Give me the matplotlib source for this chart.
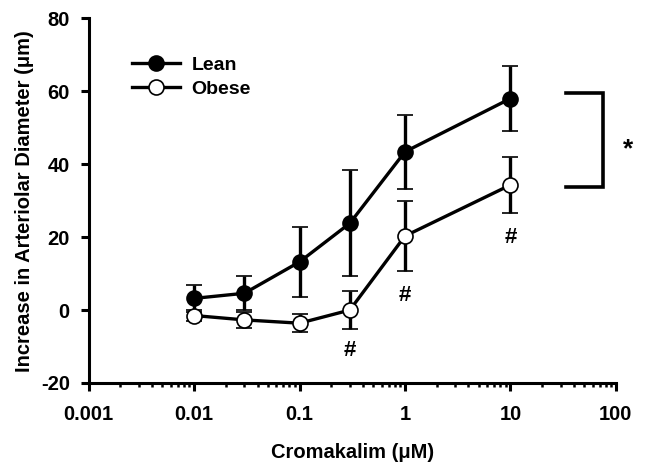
import matplotlib
matplotlib.use("Agg")
import matplotlib.pyplot as plt
from matplotlib.lines import Line2D
import numpy as np

plt.rcParams['font.family'] = ['Liberation Sans', 'DejaVu Sans']
plt.rcParams['font.weight'] = 'bold'

conc = [0.01, 0.03, 0.1, 0.3, 1, 10]
lean_mean = [3.2, 4.6, 13.2, 23.8, 43.4, 58.0]
lean_sem = [3.6, 4.7, 9.6, 14.5, 10.2, 8.8]
obese_mean = [-1.5, -2.7, -3.6, 0.0, 20.3, 34.3]
obese_sem = [1.5, 2.1, 2.5, 5.1, 9.6, 7.6]
hash_conc = [0.3, 1, 10]
hash_y = [-11.2, 4.0, 19.9]
xticks = [0.001, 0.01, 0.1, 1, 10, 100]
xtick_labels = ['0.001', '0.01', '0.1', '1', '10', '100']
yticks = [-20, 0, 20, 40, 60, 80]

FS = 14.5

fig = plt.figure(figsize=(6.49, 4.74), dpi=100)
ax = fig.add_axes([0.1365, 0.192, 0.8125, 0.7694])

lw = 2.4
ms = 10.8
ax.errorbar(conc, lean_mean, yerr=lean_sem, color='black', lw=lw, marker='o',
            ms=ms, mfc='black', mec='black', mew=1.2, elinewidth=lw, capsize=5.5,
            capthick=lw, zorder=3)
ax.errorbar(conc, obese_mean, yerr=obese_sem, color='black', lw=lw, marker='o',
            ms=ms, mfc='white', mec='black', mew=1.2, elinewidth=lw, capsize=5.5,
            capthick=lw, zorder=4)

for xc, yc in zip(hash_conc, hash_y):
    ax.text(xc, yc, '#', ha='center', va='center', fontsize=16, fontweight='bold')

ax.set_xscale('log')
ax.set_xlim(0.001, 100)
ax.set_ylim(-20, 80)
ax.set_xticks(xticks)
ax.set_xticklabels(xtick_labels)
ax.set_yticks(yticks)
ax.set_yticklabels([str(v) for v in yticks])

for s in ['top', 'right']:
    ax.spines[s].set_visible(False)
for s in ['left', 'bottom']:
    ax.spines[s].set_linewidth(2.2)
ax.tick_params(axis='both', which='major', direction='out', length=5.5, width=2.2,
               labelsize=FS)
ax.tick_params(axis='x', which='major', pad=10)
ax.tick_params(axis='y', which='major', pad=8)
ax.tick_params(axis='x', which='minor', direction='out', length=3, width=1.8)

ax.set_xlabel('Cromakalim (\u03bcM)', fontsize=FS, fontweight='bold', labelpad=14)
ax.set_ylabel('Increase in Arteriolar Diameter (\u03bcm)', fontsize=FS,
              fontweight='bold', labelpad=5)

# significance bracket
bx0, bx1 = 33.7, 74.8
ax.plot([bx0, bx1, bx1, bx0], [lean_mean[-1] + 1.4, lean_mean[-1] + 1.4,
                               obese_mean[-1] - 0.5, obese_mean[-1] - 0.5],
        color='black', lw=2.6, clip_on=False, solid_joinstyle='miter')
ax.text(1.023, 0.641, '*', transform=ax.transAxes, ha='center', va='center',
        fontsize=19, fontweight='bold')

handles = [Line2D([], [], color='black', lw=lw, marker='o', ms=ms, mfc='black',
                  mec='black', mew=1.2),
           Line2D([], [], color='black', lw=lw, marker='o', ms=ms, mfc='white',
                  mec='black', mew=1.2)]
leg = ax.legend(handles, ['Lean', 'Obese'], loc='upper left',
                bbox_to_anchor=(0.0495, 0.943), frameon=False,
                fontsize=14, handlelength=2.45, handletextpad=0.6, labelspacing=0.3)
for t in leg.get_texts():
    t.set_fontweight('bold')

fig.savefig('out.png', dpi=100)
